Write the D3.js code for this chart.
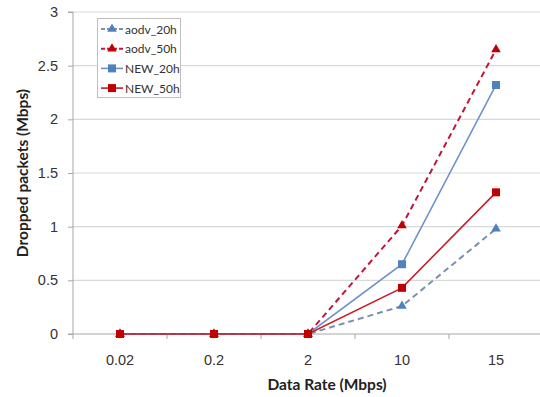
<!DOCTYPE html>
<html>
<head>
<meta charset="utf-8">
<script src="https://cdn.jsdelivr.net/npm/d3@7"></script>
<style>
  html, body { margin: 0; padding: 0; background: #fff; }
  svg { display: block; font-family: Lato, "Open Sans", sans-serif; }
</style>
</head>
<body>
<svg id="chart" width="540" height="397"></svg>
<script>
// Data rates (x categories) and dropped packets per series
const categories = ["0.02", "0.2", "2", "10", "15"];
const aodv20 = [0, 0, 0, 0.26, 0.98];
const aodv50 = [0, 0, 0, 1.01, 2.65];
const new20 = [0, 0, 0, 0.65, 2.32];
const new50 = [0, 0, 0, 0.43, 1.32];
const yTicks = [0, 0.5, 1, 1.5, 2, 2.5, 3];

const series = [
  { name: "aodv_20h", values: aodv20, color: "#7d8fb0", marker: "#4f81bd", dash: "6,4", shape: "triangle", width: 2 },
  { name: "aodv_50h", values: aodv50, color: "#c0163a", marker: "#c00000", dash: "6,4", shape: "triangle", width: 2 },
  { name: "NEW_20h", values: new20, color: "#6f93c8", marker: "#4f81bd", dash: null, shape: "square", width: 1.6 },
  { name: "NEW_50h", values: new50, color: "#c81e28", marker: "#c00000", dash: null, shape: "square", width: 1.6 }
];

const svg = d3.select("#chart");
const m = { left: 73, right: 543, top: 12, bottom: 334 };

const x = d3.scaleBand().domain(categories).range([m.left, m.right]);
const y = d3.scaleLinear().domain([0, 3]).range([m.bottom, m.top]);

// horizontal gridlines
svg.append("g").selectAll("line").data(yTicks.filter(d => d > 0)).join("line")
  .attr("x1", m.left).attr("x2", 540)
  .attr("y1", d => y(d)).attr("y2", d => y(d))
  .attr("stroke", "#d9d9d9").attr("stroke-width", 1.2);

// y axis
const yAxis = svg.append("g").attr("transform", `translate(${m.left},0)`)
  .call(d3.axisLeft(y).tickValues(yTicks).tickSize(5).tickPadding(10).tickFormat(d3.format("")));
yAxis.select(".domain").attr("stroke", "#a6a6a6").attr("d", `M-5,${y(3)}H0V${y(0)}H-5`);
yAxis.selectAll(".tick line").attr("stroke", "#a6a6a6");
yAxis.selectAll("text").attr("fill", "#333").attr("font-size", 14.5);

// x axis
const xAxis = svg.append("g").attr("transform", `translate(0,${m.bottom})`)
  .call(d3.axisBottom(x).tickSize(0).tickPadding(21));
xAxis.select(".domain").attr("stroke", "#a6a6a6").attr("d", `M${m.left},0H540`);
xAxis.selectAll("text").attr("fill", "#333").attr("font-size", 14.5);
// tick marks on category boundaries
const bounds = d3.range(categories.length + 1).map(i => m.left + x.step() * i);
svg.append("g").selectAll("line").data(bounds).join("line")
  .attr("x1", d => d).attr("x2", d => d)
  .attr("y1", m.bottom).attr("y2", m.bottom + 5)
  .attr("stroke", "#a6a6a6");

// axis titles
svg.append("text").attr("x", 327).attr("y", 390).attr("text-anchor", "middle")
  .attr("font-weight", "bold").attr("font-size", 15.5).attr("fill", "#222")
  .text("Data Rate (Mbps)");
svg.append("text").attr("transform", "translate(28,173) rotate(-90)").attr("text-anchor", "middle")
  .attr("font-weight", "bold").attr("font-size", 15.5).attr("fill", "#222")
  .text("Dropped packets (Mbps)");

const cx = c => x(c) + x.bandwidth() / 2;
const line = d3.line().x((d, i) => cx(categories[i])).y(d => y(d));

const tri = d3.symbol().type(d3.symbolTriangle).size(40);
const sq = d3.symbol().type(d3.symbolSquare).size(64);

function drawMarker(g, s, px, py) {
  g.append("path").attr("d", s.shape === "triangle" ? tri() : sq())
    .attr("transform", `translate(${px},${py})`)
    .attr("fill", s.marker);
}

// lines
series.forEach(s => {
  svg.append("path").datum(s.values).attr("d", line)
    .attr("fill", "none").attr("stroke", s.color).attr("stroke-width", s.width)
    .attr("stroke-dasharray", s.dash);
});
// markers
series.forEach(s => {
  const g = svg.append("g");
  s.values.forEach((v, i) => drawMarker(g, s, cx(categories[i]), y(v)));
});

// legend
const lg = svg.append("g");
lg.append("rect").attr("x", 97.5).attr("y", 18.5).attr("width", 83).attr("height", 79)
  .attr("fill", "#fff").attr("stroke", "#bfbfbf");
series.forEach((s, i) => {
  const ly = 29 + i * 19.7;
  lg.append("line").attr("x1", 101).attr("x2", 123).attr("y1", ly).attr("y2", ly)
    .attr("stroke", s.color).attr("stroke-width", s.width)
    .attr("stroke-dasharray", s.dash ? "4,2" : null);
  drawMarker(lg, s, 112, ly);
  lg.append("text").attr("x", 125).attr("y", ly + 4.5).attr("font-size", 12).attr("fill", "#333")
    .text(s.name);
});
</script>
</body>
</html>
